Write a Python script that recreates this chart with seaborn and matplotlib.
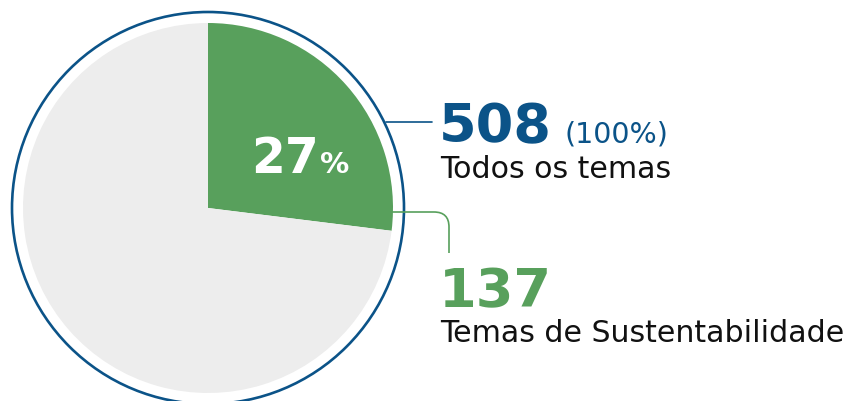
import matplotlib
matplotlib.use("Agg")
import matplotlib.pyplot as plt
import seaborn as sns
from matplotlib.patches import Circle, PathPatch
from matplotlib.path import Path

# data
total = 508
sustentabilidade = 137
labels = ["Temas de Sustentabilidade", "Outros temas"]
values = [sustentabilidade, total - sustentabilidade]
pct = round(100 * sustentabilidade / total)

blue = "#0B5388"
green = "#58A05C"
grey = "#EDEDED"
ink = "#111111"

sns.set_theme(style="white")
plt.rcParams["font.family"] = ["DejaVu Sans"]

W, H = 853, 401
fig = plt.figure(figsize=(W / 100, H / 100), dpi=100)
ax = fig.add_axes([0, 0, 1, 1])

cx, cy = 208, H - 208
ax.pie(values, colors=[green, grey], startangle=90, counterclock=False,
       center=(cx, cy), radius=185, frame=True,
       wedgeprops=dict(linewidth=0))
ax.set_xlim(0, W)
ax.set_ylim(0, H)
ax.set_aspect("equal")
ax.axis("off")
ax.add_patch(Circle((cx, cy), 196, fill=False, edgecolor=blue, lw=1.9))

# leader lines
ax.plot([386, 432], [H - 122, H - 122], color=blue, lw=1.2)
verts = [(392, H - 212), (434, H - 212), (449, H - 212), (449, H - 227), (449, H - 253)]
codes = [Path.MOVETO, Path.LINETO, Path.CURVE3, Path.CURVE3, Path.LINETO]
ax.add_patch(PathPatch(Path(verts, codes), fill=False, edgecolor=green, lw=1.2))

# texts
ax.text(251, H - 173, f"{pct}", color="white", fontsize=35, fontweight="bold",
        ha="left", va="baseline")
ax.text(320, H - 173, "%", color="white", fontsize=21, fontweight="bold",
        ha="left", va="baseline")

ax.text(439, H - 142, f"{total}", color=blue, fontsize=39, fontweight="bold",
        ha="left", va="baseline")
ax.text(565, H - 142, "(100%)", color=blue, fontsize=20.5,
        ha="left", va="baseline")
ax.text(440, H - 178, "Todos os temas", color=ink, fontsize=21.6,
        ha="left", va="baseline")

ax.text(439, H - 307, f"{sustentabilidade}", color=green, fontsize=39, fontweight="bold",
        ha="left", va="baseline")
ax.text(440, H - 342, labels[0], color=ink, fontsize=21.6,
        ha="left", va="baseline")

fig.savefig("out.png", dpi=100, facecolor="white")
